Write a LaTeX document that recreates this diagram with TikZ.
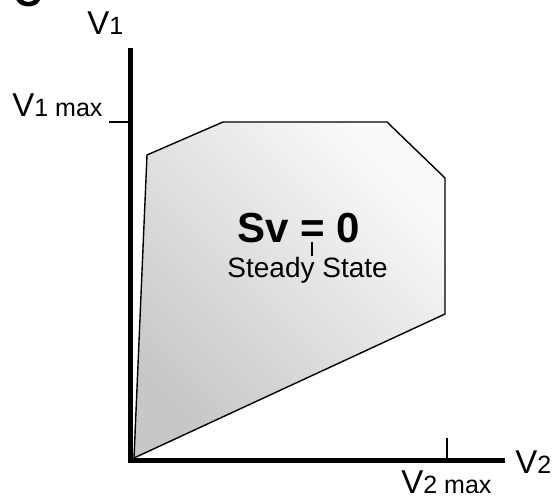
\documentclass[tikz,border=0pt]{standalone}
\usepackage{fontspec}
\setmainfont{Liberation Sans}
\usetikzlibrary{positioning}
\newcommand{\lblsub}[1]{{\fontsize{12.5}{14}\selectfont #1}}
\begin{document}
\begin{tikzpicture}[x=0.5pt,y=-0.5pt,
 axis/.style={line width=2.5pt,line join=miter},
 tickmark/.style={line width=1pt},
 lbl/.style={anchor=base west,inner sep=0pt,font=\fontsize{16.5}{19}\selectfont},
 region/.style={draw,line width=0.7pt,shading=axis,top color=black!2,
 bottom color=black!22,shading angle=-45}]
\useasboundingbox (0,0) rectangle (560,501);
\node[anchor=base west,inner sep=0pt,font=\fontsize{20}{24}\selectfont\bfseries] (panel) at (13,7) {C};
\coordinate (o) at (130.5,460.5);
\coordinate (ytop) at (130.5,48);
\coordinate (xend) at (505,460.5);
\coordinate (ymax) at (130.5,122);
\coordinate (ymaxl) at (109,122);
\coordinate (xmax) at (447,460);
\coordinate (xmaxu) at (447,438);
\path[region] (134,458) -- (147,155) -- (223,122) -- (387,122) -- (445,178)
 -- (445,314) -- cycle;
\draw[axis] (ytop) -- (o) -- (xend);
\draw[tickmark] (ymax) -- (ymaxl);
\draw[tickmark] (xmax) -- (xmaxu);
\node[lbl] (v1) at (87,35) {V\lblsub{1}};
\node[lbl] (v1max) at (12,117) {V\lblsub{1 max}};
\node[lbl] (v2) at (515,473) {V\lblsub{2}};
\node[lbl] (v2max) at (401,493) {V\lblsub{2 max}};
\node[anchor=base west,inner sep=0pt,font=\fontsize{21}{25}\selectfont\bfseries] (sv) at (237,243) {Sv = 0};
\node[anchor=base west,inner sep=0pt,font=\fontsize{14}{17}\selectfont] (ss) at (227,278) {Steady State};
\coordinate (eqtop) at (312,242);
\coordinate (eqbot) at (312,256);
\draw[tickmark] (eqtop) -- (eqbot);
\end{tikzpicture}
\end{document}
